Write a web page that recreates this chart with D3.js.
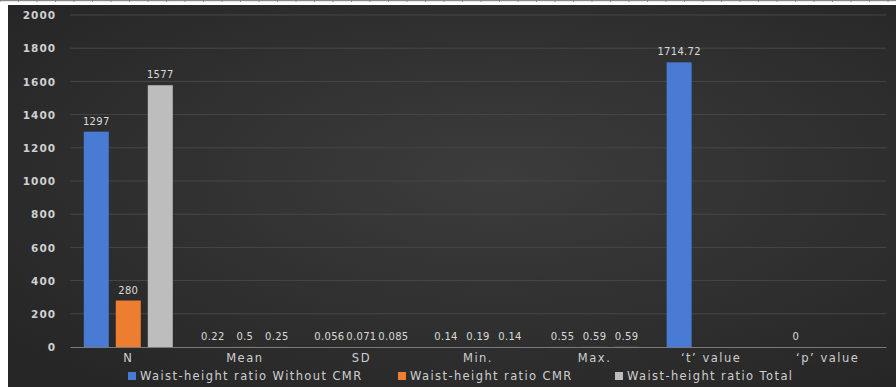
<!DOCTYPE html>
<html><head><meta charset="utf-8">
<script src="https://cdn.jsdelivr.net/npm/d3@7"></script>
<style>html,body{margin:0;padding:0;background:#fff;}svg{display:block;}</style>
</head><body>
<svg id="chart" width="896" height="387"></svg>
<script>
const categories = ["N", "Mean", "SD", "Min.", "Max.", "\u2018t\u2019 value", "\u2018p\u2019 value"];
const seriesNames = ["Waist-height ratio Without CMR", "Waist-height ratio CMR", "Waist-height ratio Total"];
const withoutCMR = [1297, 0.22, 0.056, 0.14, 0.55, 1714.72, 0];
const withCMR = [280, 0.5, 0.071, 0.19, 0.59, null, null];
const total = [1577, 0.25, 0.085, 0.14, 0.59, null, null];
const yTicks = [0, 200, 400, 600, 800, 1000, 1200, 1400, 1600, 1800, 2000];
const colors = ["#4a7bd4", "#ed7d31", "#bdbdbd"];

const svg = d3.select("#chart");
const W = 896, H = 387;
const defs = svg.append("defs");
const rg = defs.append("radialGradient").attr("id", "bg").attr("cx", "55%").attr("cy", "45%").attr("r", "70%");
rg.append("stop").attr("offset", "0%").attr("stop-color", "#3c3c3c");
rg.append("stop").attr("offset", "100%").attr("stop-color", "#262626");

// page frame
svg.append("rect").attr("x", 0).attr("y", 0).attr("width", W).attr("height", H).attr("fill", "#fff");
svg.append("rect").attr("x", 8).attr("y", 5).attr("width", W - 8).attr("height", H - 5).attr("fill", "url(#bg)");
svg.append("rect").attr("x", 0).attr("y", 0).attr("width", W).attr("height", 1.2).attr("fill", "#8a8a8a");
const ruler = d3.range(0, W, 18.5);
svg.selectAll("line.rul").data(ruler).join("line").attr("class", "rul")
  .attr("x1", d => d).attr("x2", d => d).attr("y1", 0).attr("y2", 2).attr("stroke", "#777").attr("stroke-width", 0.8);

const x0 = d3.scaleBand().domain(categories).range([70, 886]).paddingInner(0).paddingOuter(0);
const y = d3.scaleLinear().domain([0, 2000]).range([347, 15]);
const FONT = "DejaVu Sans, sans-serif";

// gridlines
svg.append("g").selectAll("line").data(yTicks.filter(d => d > 0)).join("line")
  .attr("x1", 70).attr("x2", 886).attr("y1", d => y(d)).attr("y2", d => y(d))
  .attr("stroke", "#474747").attr("stroke-width", 1);

// y axis
const yAxis = d3.axisLeft(y).tickValues(yTicks).tickSize(0).tickPadding(0).tickFormat(d3.format("d"));
const gy = svg.append("g").attr("transform", "translate(56,0)").call(yAxis);
gy.select(".domain").remove();
gy.selectAll("text").attr("fill", "#d0d0d0").attr("font-family", FONT)
  .attr("font-size", 10.5).attr("font-weight", "bold").attr("letter-spacing", "1px").attr("dy", "0.35em");

// bars
const barW = 25, step = 32;
const seriesData = [withoutCMR, withCMR, total];
seriesData.forEach((vals, si) => {
  const data = categories.map((c, i) => ({c, v: vals[i]})).filter(d => d.v !== null);
  const cx = d => x0(d.c) + x0.bandwidth() / 2 + (si - 1) * step;
  svg.append("g").selectAll("rect").data(data).join("rect")
    .attr("x", d => cx(d) - barW / 2).attr("width", barW)
    .attr("y", d => y(d.v)).attr("height", d => y(0) - y(d.v))
    .attr("fill", colors[si]);
  svg.append("g").selectAll("text").data(data).join("text")
    .attr("x", d => cx(d)).attr("y", d => y(d.v) - 7)
    .attr("text-anchor", "middle").attr("fill", "#dadada")
    .attr("font-family", FONT).attr("font-size", 10).attr("letter-spacing", "0.3px")
    .text(d => d.v);
});

// x axis
const xAxis = d3.axisBottom(x0).tickSize(0).tickPadding(7);
const gx = svg.append("g").attr("transform", `translate(0,${y(0)})`).call(xAxis);
gx.select(".domain").attr("stroke", "#7a7a7a").attr("stroke-width", 1.2);
gx.selectAll("text").attr("fill", "#cfcfcf").attr("font-family", FONT)
  .attr("font-size", 11.5).attr("letter-spacing", "1.5px");

// legend
const legX = [128, 398, 615];
const leg = svg.append("g");
seriesNames.forEach((n, i) => {
  leg.append("rect").attr("x", legX[i]).attr("y", 372).attr("width", 8).attr("height", 8).attr("fill", colors[i]);
  leg.append("text").attr("x", legX[i] + 12).attr("y", 380).attr("fill", "#cfcfcf")
    .attr("font-family", FONT).attr("font-size", 11.5).attr("letter-spacing", "1.4px")
    .text(n);
});
</script>
</body></html>
